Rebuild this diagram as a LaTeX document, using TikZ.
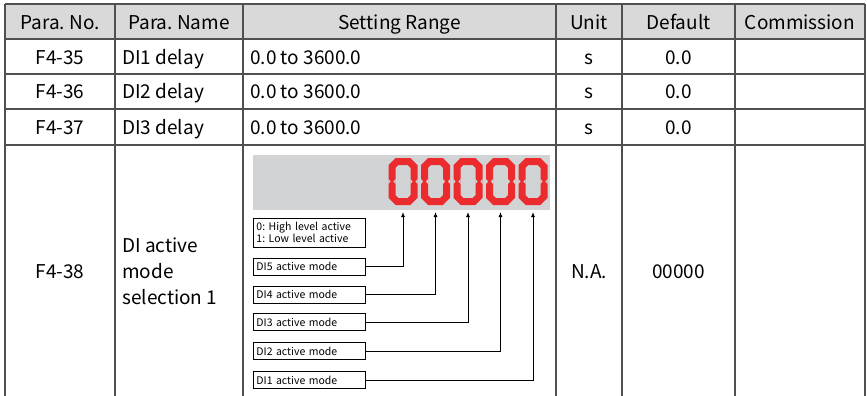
\documentclass[tikz,border=0pt]{standalone}
\usepackage{fontspec}
\setmainfont{Noto Sans CJK SC}
\usetikzlibrary{arrows.meta}
\frenchspacing
\definecolor{gridline}{HTML}{505050}
\definecolor{headfill}{HTML}{D9D9D9}
\definecolor{panel}{HTML}{D1D3D4}
\definecolor{segred}{HTML}{EC2B2E}
\tikzset{
	cell/.style={anchor=base,inner sep=0pt,font=\fontsize{19}{26}\selectfont},
	tag/.style={draw,line width=0.9pt,anchor=west,text width=106pt,align=left,
		inner xsep=3pt,inner ysep=0pt,minimum height=17pt,font=\fontsize{10.5}{12.5}\selectfont},
	link/.style={line width=0.9pt,-{Latex[length=5pt,width=4pt]}}
}
\begin{document}
\begin{tikzpicture}[x=1pt,y=-1pt]
	\useasboundingbox (0,0) rectangle (867,396);
	% header and grid
	\fill[headfill] (5,4) rectangle (865,39);
	\draw[gridline,line width=1.1pt] (5,4)--(865,4) (5,39)--(865,39) (5,74)--(865,74)
		(5,109)--(865,109) (5,145)--(865,145);
	\foreach \x in {5,115,243,556,622,735,865}{
		\draw[gridline,line width=1.1pt] (\x,4)--(\x,396);
	}
	\foreach \x/\t/\n in {60/Para. No./pno, 179/Para. Name/pname, 399.5/Setting Range/range,
		589/Unit/unit, 678.5/Default/dflt, 800/Commission/comm}{
		\node[cell] (\n) at (\x,29.5) {\t};
	}
	% rows F4-35 .. F4-37
	\foreach \y/\no/\di in {64/35/1, 99/36/2, 134/37/3}{
		\node[cell] (no\no) at (60,\y) {F4-\no};
		\node[cell,anchor=base west] (nm\no) at (122,\y) {DI\di{} delay};
		\node[cell,anchor=base west] (rg\no) at (250,\y) {0.0 to 3600.0};
		\node[cell] (un\no) at (589,\y) {s};
		\node[cell] (df\no) at (678.5,\y) {0.0};
	}
	% row F4-38
	\node[cell] (no38) at (60,278) {F4-38};
	\node[cell,anchor=north west,align=left] (nm38) at (122,238) {DI active\\mode\\selection 1};
	\node[cell] (un38) at (589,278) {N.A.};
	\node[cell] (df38) at (678.5,278) {00000};
	% display panel
	\fill[panel] (253,155) rectangle (550,210);
	\foreach \i in {0,...,4}{
		\pgfmathsetmacro{\cx}{403+32.5*\i}
		\draw[segred,line width=7pt,line join=miter]
			(\cx-6,161.5)--(\cx+6,161.5)--(\cx+11,166.5)--(\cx+11,196.5)--(\cx+6,201.5)
			--(\cx-6,201.5)--(\cx-11,196.5)--(\cx-11,166.5)--cycle;
		\fill[panel] (\cx-14.6,179) -- (\cx-12.4,181.5) -- (\cx-14.6,184) -- cycle
			(\cx-7.4,179) -- (\cx-9.6,181.5) -- (\cx-7.4,184) -- cycle
			(\cx+14.6,179) -- (\cx+12.4,181.5) -- (\cx+14.6,184) -- cycle
			(\cx+7.4,179) -- (\cx+9.6,181.5) -- (\cx+7.4,184) -- cycle;
		\coordinate (t\i) at (\cx,212);
	}
	% legend and DI boxes
	\node[tag,minimum height=29pt] (lvl) at (253,232.5) {0: High level active\\1: Low level active};
	\foreach \y/\d/\k in {266.5/5/0, 294.5/4/1, 322/3/2, 351/2/3, 380/1/4}{
		\node[tag] (di\d) at (253,\y) {DI\d{} active mode};
		\draw[link] (di\d.east) -| (t\k);
	}
\end{tikzpicture}
\end{document}
